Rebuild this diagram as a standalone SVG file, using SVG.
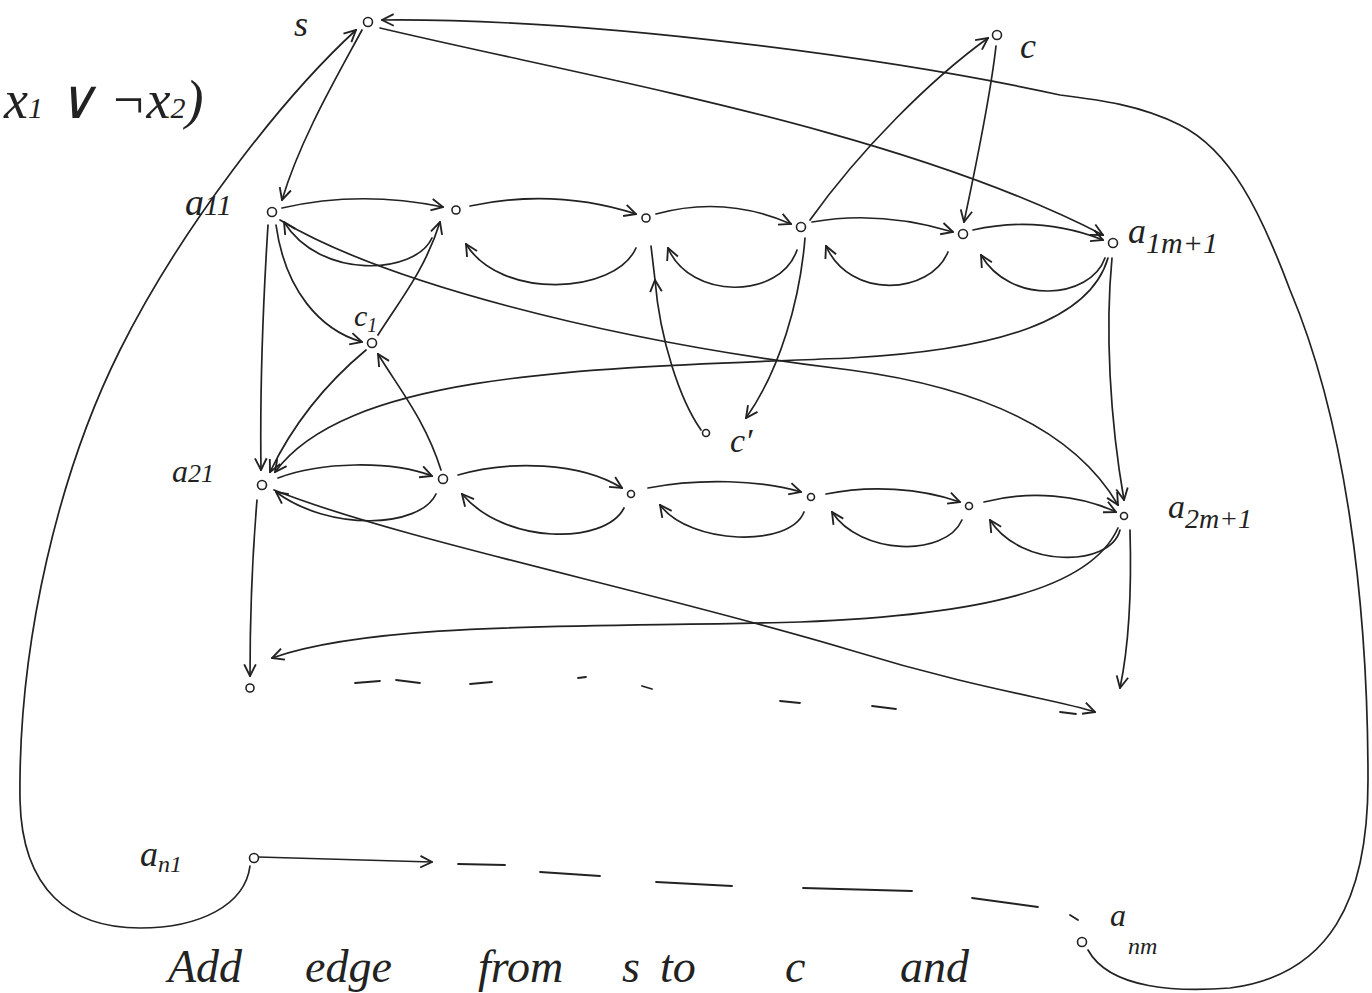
<svg xmlns="http://www.w3.org/2000/svg" width="1372" height="993" viewBox="0 0 1372 993">
<defs>
<marker id="ah" viewBox="0 0 12 12" refX="11" refY="6" markerWidth="14" markerHeight="14" markerUnits="userSpaceOnUse" orient="auto">
<path d="M1,1 L11,6 L1,11" fill="none" stroke="#222" stroke-width="1.6"/>
</marker>
<style>
.e{fill:none;stroke:#222;stroke-width:1.7;stroke-linecap:round}
.a{marker-end:url(#ah)}
.n{fill:#fff;stroke:#222;stroke-width:1.6}
.t{font-family:"Liberation Serif",serif;font-style:italic;fill:#222}
.d{fill:none;stroke:#222;stroke-width:1.8;stroke-linecap:round}
</style>
</defs>
<rect width="1372" height="993" fill="#fff"/>

<g id="connectors">
<!-- outer loops -->
<path class="e a" d="M250 866 C245 905,200 928,140 928 C70 928,22 890,20 800 C18 640,60 470,120 350 C180 230,280 100,356 30"/>
<path class="e a" d="M1088 950 C1110 990,1180 992,1230 988 C1330 975,1368 900,1368 780 C1368 600,1345 420,1290 290 C1260 210,1230 150,1180 125 C1140 105,1100 100,1060 95 C900 60,600 18,382 20"/>
<!-- s edges -->
<path class="e a" d="M362 30 C335 80,300 140,282 200"/>
<path class="e a" d="M380 28 C600 80,900 130,1103 235"/>
<!-- row 1 forward -->
<path class="e a" d="M282 208 Q360 190 443 207"/>
<path class="e a" d="M470 206 Q555 188 636 214"/>
<path class="e a" d="M656 214 Q725 195 791 224"/>
<path class="e a" d="M812 222 Q880 210 953 232"/>
<path class="e a" d="M973 230 Q1040 215 1103 240"/>
<!-- row 1 backward -->
<path class="e a" d="M432 238 C415 275,320 280,284 222"/>
<path class="e a" d="M636 248 C615 295,500 300,466 244"/>
<path class="e a" d="M797 250 C780 300,690 300,668 248"/>
<path class="e a" d="M948 252 C930 295,850 300,826 246"/>
<path class="e a" d="M1105 258 C1090 300,1010 305,981 255"/>
<!-- row 2 forward -->
<path class="e a" d="M278 478 C320 462,390 460,432 476"/>
<path class="e a" d="M458 475 C510 460,580 462,622 488"/>
<path class="e a" d="M648 488 C700 478,760 480,801 492"/>
<path class="e a" d="M826 494 C870 485,920 488,960 502"/>
<path class="e a" d="M984 502 C1030 490,1080 495,1116 512"/>
<!-- row 2 backward -->
<path class="e a" d="M436 494 C420 528,330 532,276 492"/>
<path class="e a" d="M624 508 C605 545,505 545,462 494"/>
<path class="e a" d="M804 512 C790 548,690 545,660 505"/>
<path class="e a" d="M962 520 C945 558,860 555,832 512"/>
<path class="e a" d="M1120 530 C1110 568,1020 568,990 520"/>
<!-- clause gadget c1 -->
<path class="e a" d="M268 225 C262 320,260 400,261 470"/>
<path class="e a" d="M276 225 C285 290,320 330,362 342"/>
<path class="e a" d="M366 350 C330 380,295 420,270 472"/>
<path class="e a" d="M378 335 C400 300,425 270,440 222"/>
<path class="e a" d="M441 470 C425 420,400 390,378 354"/>
<!-- long diagonals -->
<path class="e a" d="M280 220 C380 280,600 340,850 370 C1000 390,1080 440,1118 505"/>
<path class="e a" d="M1108 258 C1090 320,1000 350,850 358 C600 368,350 370,275 472"/>
<path class="e a" d="M1112 258 C1105 330,1110 420,1124 500"/>
<!-- clause c, c' -->
<path class="e a" d="M810 220 C860 150,930 80,988 38"/>
<path class="e a" d="M996 46 C990 100,975 170,964 222"/>
<path class="e a" d="M805 238 C800 300,780 370,746 418"/>
<path class="e a" d="M701 430 C680 400,660 340,655 280"/>
<path class="e" d="M655 280 L651 246"/>
<!-- to row 3 -->
<path class="e a" d="M257 500 C252 560,250 620,250 676"/>
<path class="e a" d="M1130 530 C1132 600,1128 650,1120 688"/>
<path class="e a" d="M1118 528 C1090 590,980 615,800 622 C600 628,380 620,272 658"/>
<path class="e a" d="M274 490 C400 540,650 590,850 650 C980 690,1060 700,1095 712"/>
<!-- row 3 dashes -->
<path class="d" d="M355 683 L380 681 M396 680 L420 683 M470 684 L492 682 M578 678 L586 677 M642 686 L652 689 M780 701 L800 703 M872 706 L896 709 M1060 712 L1076 714"/>
<!-- row n -->
<path class="e a" d="M258 857 L432 862"/>
<path class="d" d="M458 864 L505 865 M540 872 L600 876 M656 882 L732 886 M803 888 L912 891 M972 898 L1038 907 M1070 915 L1078 920"/>
</g>

<g id="s"><circle class="n" cx="368" cy="22" r="4.5"/><text class="t" x="294" y="36" font-size="36">s</text></g>
<g id="c"><circle class="n" cx="997" cy="35" r="4.5"/><text class="t" x="1020" y="58" font-size="36">c</text></g>
<g id="a11"><circle class="n" cx="272" cy="212" r="4.5"/><text class="t" x="185" y="215" font-size="38">a<tspan font-size="30">11</tspan></text></g>
<g id="n12"><circle class="n" cx="456" cy="210" r="4"/></g>
<g id="n13"><circle class="n" cx="646" cy="218" r="4"/></g>
<g id="n14"><circle class="n" cx="801" cy="227" r="4.5"/></g>
<g id="n15"><circle class="n" cx="963" cy="234" r="4.5"/></g>
<g id="a1m1"><circle class="n" cx="1113" cy="243" r="4.5"/><text class="t" x="1128" y="243" font-size="36">a<tspan dy="10" font-size="30">1m+1</tspan></text></g>
<g id="c1"><circle class="n" cx="372" cy="343" r="4.5"/><text class="t" x="354" y="326" font-size="30">c<tspan dy="6" font-size="20">1</tspan></text></g>
<g id="cprime"><circle class="n" cx="706" cy="433" r="3.5"/><text class="t" x="730" y="452" font-size="34">c′</text></g>
<g id="a21"><circle class="n" cx="262" cy="485" r="4.5"/><text class="t" x="172" y="482" font-size="32">a<tspan font-size="26">21</tspan></text></g>
<g id="n22"><circle class="n" cx="443" cy="479" r="4.5"/></g>
<g id="n23"><circle class="n" cx="631" cy="494" r="3.5"/></g>
<g id="n24"><circle class="n" cx="811" cy="497" r="3.5"/></g>
<g id="n25"><circle class="n" cx="969" cy="506" r="3.5"/></g>
<g id="a2m1"><circle class="n" cx="1124" cy="516" r="3.5"/><text class="t" x="1168" y="518" font-size="34">a<tspan dy="10" font-size="28">2m+1</tspan></text></g>
<g id="r31"><circle class="n" cx="250" cy="688" r="4"/></g>
<g id="an1"><circle class="n" cx="254" cy="858" r="4.5"/><text class="t" x="140" y="866" font-size="36">a<tspan dy="6" font-size="24">n1</tspan></text></g>
<g id="anm"><circle class="n" cx="1082" cy="942" r="4.5"/><text class="t" x="1110" y="926" font-size="32">a</text><text class="t" x="1128" y="954" font-size="24">nm</text></g>

<g id="formula"><text class="t" x="4" y="118" font-size="54">x<tspan font-size="30">1</tspan> ∨ ¬x<tspan font-size="30">2</tspan>)</text></g>
<g id="note"><text class="t" font-size="46" y="982"><tspan x="168">Add</tspan><tspan x="305">edge</tspan><tspan x="478">from</tspan><tspan x="622">s</tspan><tspan x="660">to</tspan><tspan x="785">c</tspan><tspan x="900">and</tspan></text></g>
</svg>
